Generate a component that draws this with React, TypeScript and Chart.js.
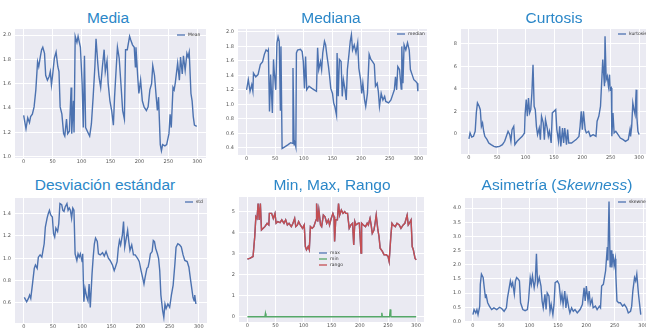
import React, { useEffect, useRef } from "react";
import { Chart, registerables } from "chart.js";
Chart.register(...registerables);

// ---------- data ----------
const xTicks = [0, 50, 100, 150, 200, 250, 300];

const mediaX = [
  0, 4, 7, 10, 12, 15, 18, 21, 24, 26,
  29, 31, 33, 36, 38, 41, 44, 46, 48, 50,
  53, 56, 59, 61, 63, 66, 69, 71, 74, 76,
  79, 82, 83, 86, 87, 89, 92, 94, 98, 101,
  103, 105, 107, 111, 114, 117, 120, 123, 125, 128,
  130, 133, 136, 139, 141, 144, 146, 149, 152, 155,
  157, 160, 162, 165, 168, 171, 174, 176, 179, 183,
  185, 188, 191, 193, 194, 197, 199, 202, 205, 208,
  212, 215, 218, 221, 223, 226, 229, 231, 233, 236,
  238, 240, 244, 247, 251, 253, 255, 258, 260, 262,
  266, 269, 271, 274, 276, 279, 282, 284, 286, 289,
  291, 293, 295, 299,
];
const mediaY = [
  1.34, 1.23, 1.32, 1.28, 1.33, 1.35, 1.41, 1.55, 1.78, 1.74,
  1.83, 1.88, 1.9, 1.85, 1.67, 1.63, 1.66, 1.7, 1.59, 1.67,
  1.81, 1.86, 1.74, 1.7, 1.41, 1.35, 1.19, 1.17, 1.31, 1.19,
  1.21, 1.57, 1.19, 1.46, 1.2, 1.99, 1.94, 1.99, 1.9, 1.6,
  1.24, 1.83, 1.24, 1.2, 1.17, 1.27, 1.49, 1.74, 1.97, 1.77,
  1.66, 1.57, 1.74, 1.88, 1.7, 1.79, 1.6, 1.46, 1.38, 1.26,
  1.49, 1.74, 1.9, 1.81, 1.6, 1.38, 1.31, 1.88, 1.88, 1.99,
  1.96, 1.92, 1.9, 1.74, 1.9, 1.66, 1.52, 1.63, 1.46, 1.41,
  1.38, 1.41, 1.55, 1.6, 1.75, 1.67, 1.49, 1.38, 1.49, 1.1,
  1.05, 1.1, 1.09, 1.1, 1.19, 1.35, 1.24, 1.57, 1.55, 1.61,
  1.77, 1.63, 1.82, 1.68, 1.83, 1.71, 1.85, 1.82, 1.86, 1.52,
  1.46, 1.33, 1.26, 1.25,
];

const medianaX = [
  0, 3, 6, 9, 11, 12, 16, 20, 24, 28,
  31, 34, 37, 38, 40, 42, 45, 47, 48, 51,
  53, 55, 57, 59, 60, 62, 66, 72, 77, 80,
  81, 83, 84, 86, 87, 89, 94, 97, 99, 101,
  103, 105, 109, 114, 118, 122, 124, 126, 129, 131,
  133, 136, 138, 140, 143, 145, 147, 150, 152, 154,
  157, 158, 160, 162, 165, 167, 169, 172, 174, 176,
  179, 181, 183, 185, 188, 191, 194, 196, 199, 201,
  203, 206, 208, 211, 214, 217, 220, 223, 225, 228,
  230, 232, 235, 238, 241, 243, 248, 252, 255, 258,
  260, 262, 264, 267, 270, 271, 273, 275, 278, 281,
  284, 286, 289, 292, 295, 298, 299,
];
const medianaY = [
  1.2, 1.34, 1.18, 1.27, 1.18, 1.43, 1.38, 1.41, 1.55, 1.59,
  1.69, 1.75, 1.73, 1.75, 0.9, 1.41, 0.88, 1.62, 1.48, 1.2,
  1.85, 1.93, 1.87, 0.92, 1.8, 0.39, 0.41, 0.44, 0.47, 0.46,
  1.5, 0.44, 0.48, 0.41, 1.71, 1.75, 1.76, 1.73, 1.59, 1.22,
  1.66, 1.2, 1.25, 1.22, 1.2, 1.18, 1.78, 1.48, 1.59, 1.48,
  1.71, 1.87, 1.82, 1.69, 1.52, 1.38, 1.22, 1.15, 1.02, 0.97,
  0.85, 1.71, 1.11, 1.62, 1.59, 1.11, 1.34, 1.2, 1.06, 1.48,
  1.71, 1.87, 1.96, 1.75, 1.82, 1.71, 1.85, 1.5, 1.34, 1.15,
  1.29, 1.06, 0.97, 1.15, 1.69, 1.62, 1.59, 1.55, 1.25, 1.29,
  1.18, 0.97, 1.15, 1.06, 1.11, 1.04, 1.02, 1.06, 1.13, 1.2,
  1.38, 1.2, 1.52, 1.48, 1.21, 1.8, 1.29, 1.82, 1.75, 1.85,
  1.75, 1.48, 1.41, 1.34, 1.32, 1.29, 1.18,
];

const curtosisX = [
  0, 2, 5, 8, 11, 13, 15, 18, 20, 22,
  24, 26, 28, 32, 35, 39, 44, 48, 54, 59,
  63, 66, 69, 72, 74, 76, 79, 81, 85, 89,
  94, 98, 99, 101, 103, 105, 107, 109, 111, 113,
  115, 117, 119, 121, 124, 126, 128, 131, 133, 135,
  138, 140, 142, 145, 147, 150, 153, 155, 158, 160,
  162, 165, 167, 169, 172, 174, 176, 181, 185, 189,
  194, 196, 198, 200, 202, 205, 207, 211, 214, 219,
  224, 226, 229, 232, 234, 236, 239, 240, 242, 244,
  246, 248, 249, 251, 252, 254, 256, 259, 263, 267,
  272, 276, 281, 284, 285, 287, 289, 291, 293, 295,
  296, 298, 300,
];
const curtosisY = [
  -0.44, 0.09, -0.27, -0.21, 0.24, 1.87, 2.76, 2.46, 2.16, 0.68,
  0.98, 0.24, -0.21, -0.5, -0.8, -0.95, -1.1, -1.16, -1.1, -0.95,
  -0.65, -0.21, 0.24, -0.06, -0.65, 0.39, 0.68, -0.95, -0.65, -0.44,
  -0.21, 0.09, 1.72, 3.05, 1.57, 3.2, 1.87, 2.16, 3.64, 6.16,
  2.46, 2.16, 0.68, -0.06, 0.53, -0.5, 1.57, 0.98, -0.5, 1.27,
  0.53, -0.21, 0.24, -0.8, 1.87, 2.01, 2.16, 0.39, -0.65, 0.68,
  -1.1, 0.53, -0.8, 0.53, -0.95, 0.39, -0.8, -0.8, -0.65, -0.5,
  -0.21, 0.68, 2.01, 0.39, 2.01, 0.39, 0.09, 0.24, -0.21, -0.06,
  -0.21, 1.13, 1.57, 2.46, 4.53, 6.61, 4.24, 8.68, 4.83, 5.13,
  4.24, 5.27, 3.94, 4.09, -0.21, 1.87, 0.09, 0.24, -0.06, -0.36,
  -0.5, -0.65, -0.5, 0.39, -0.21, 0.68, 2.76, 2.16, 1.72, 3.94,
  1.57, 0.24, -0.06,
];

const stdX = [
  1, 5, 8, 10, 12, 15, 18, 20, 23, 25,
  28, 31, 33, 35, 37, 40, 42, 44, 46, 49,
  51, 53, 55, 58, 60, 62, 65, 67, 69, 71,
  74, 76, 78, 80, 82, 84, 86, 88, 91, 93,
  95, 97, 100, 101, 103, 105, 108, 110, 112, 114,
  117, 119, 121, 123, 126, 128, 131, 135, 138, 141,
  145, 148, 152, 155, 157, 160, 162, 164, 166, 169,
  171, 173, 175, 178, 180, 182, 185, 188, 191, 195,
  198, 201, 204, 206, 208, 211, 213, 215, 217, 220,
  222, 224, 226, 229, 231, 233, 235, 238, 240, 242,
  244, 247, 250, 253, 256, 259, 261, 264, 267, 270,
  273, 276, 280, 283, 286, 290, 292, 293, 295,
];
const stdY = [
  0.65, 0.61, 0.64, 0.67, 0.64, 0.77, 0.91, 0.94, 0.91, 1.01,
  1.03, 1.01, 1.07, 1.13, 1.28, 1.36, 1.4, 1.43, 1.39, 1.37,
  1.22, 1.19, 1.27, 1.24, 1.31, 1.49, 1.48, 1.43, 1.42, 1.46,
  1.49, 1.43, 1.45, 1.43, 1.36, 1.45, 1.43, 1.04, 0.98, 1.04,
  1.01, 1.04, 0.97, 1.04, 0.61, 0.73, 0.65, 0.62, 0.77, 0.56,
  0.86, 1.01, 1.13, 1.18, 1.15, 1.04, 1.03, 1.05, 1.02, 1.06,
  1.0, 0.98, 0.94, 0.89, 0.92, 0.97, 1.09, 1.16, 1.12, 1.21,
  1.33, 1.1, 1.16, 1.25, 1.15, 1.07, 1.12, 1.03, 1.03, 1.0,
  0.97, 0.89, 0.82, 0.77, 0.83, 0.91, 0.92, 0.97, 1.04, 1.06,
  1.16, 1.15, 1.09, 1.04, 1.0, 0.89, 0.67, 0.53, 0.47, 0.59,
  0.55, 0.59, 0.56, 0.67, 0.76, 0.95, 1.1, 1.13, 1.12, 1.1,
  1.03, 0.98, 0.97, 0.92, 0.8, 0.65, 0.62, 0.67, 0.59,
];

const rangoX = [
  0, 5, 8, 10, 13, 15, 17, 19, 21, 23,
  25, 28, 31, 35, 38, 39, 43, 46, 49, 51,
  54, 58, 61, 65, 68, 71, 74, 78, 81, 84,
  86, 89, 91, 94, 96, 98, 101, 103, 105, 108,
  110, 112, 115, 118, 122, 123, 125, 127, 130, 132,
  135, 138, 141, 144, 146, 149, 152, 154, 155, 157,
  160, 162, 164, 167, 170, 173, 175, 178, 181, 184,
  187, 189, 191, 193, 197, 199, 202, 203, 206, 210,
  213, 215, 218, 220, 222, 225, 227, 229, 232, 234,
  236, 240, 243, 247, 250, 252, 255, 257, 259, 263,
  266, 270, 273, 277, 280, 284, 286, 288, 291, 293,
  295, 298, 300,
];
const rangoY = [
  2.74, 2.79, 2.84, 2.87, 3.82, 4.76, 4.68, 5.39, 4.61, 5.39,
  4.13, 4.21, 4.29, 4.45, 4.37, 4.92, 4.92, 4.68, 4.92, 4.45,
  4.53, 4.48, 4.61, 4.45, 4.61, 4.37, 4.45, 4.29, 4.45, 4.68,
  4.29, 4.37, 4.53, 4.37, 4.29, 4.21, 4.37, 3.34, 3.19, 3.34,
  3.19, 4.29, 4.21, 4.29, 4.61, 5.39, 4.53, 5.08, 4.37, 4.29,
  4.84, 4.76, 4.45, 4.61, 4.37, 4.68, 4.92, 4.76, 3.58, 4.61,
  4.61, 5.39, 4.84, 5.08, 4.92, 5.0, 4.92, 4.92, 4.21, 4.37,
  4.45, 3.42, 4.53, 4.37, 4.45, 4.45, 3.03, 4.45, 4.37, 4.29,
  4.45, 4.37, 4.68, 4.37, 3.97, 4.13, 4.45, 4.84, 4.13, 3.82,
  3.26, 3.11, 2.95, 2.95, 2.87, 2.63, 3.82, 4.45, 4.37, 4.29,
  4.45, 4.37, 4.21, 4.37, 4.45, 4.84, 4.37, 4.45, 4.61, 3.34,
  3.19, 2.79, 2.71,
];
// max is hidden under rango in the reference (min is ~0 almost everywhere)
const maxX = rangoX;
const maxY = rangoY;
const minX = [0, 31, 32, 33, 238, 239, 240, 252, 253, 254, 255, 256, 300];
const minY = [0, 0, 0.16, 0, 0, 0.19, 0, 0, 0.08, 0.35, 0.04, 0, 0];

const skewX = [
  0, 2, 5, 7, 9, 12, 13, 15, 18, 20,
  22, 23, 26, 29, 33, 37, 42, 47, 51, 55,
  59, 61, 63, 66, 68, 70, 73, 75, 77, 80,
  82, 84, 88, 92, 96, 98, 101, 103, 105, 108,
  110, 112, 114, 117, 120, 122, 124, 127, 129, 131,
  134, 136, 138, 141, 143, 145, 149, 152, 155, 157,
  159, 162, 164, 166, 169, 171, 174, 177, 180, 184,
  189, 193, 196, 198, 200, 203, 205, 207, 210, 212,
  216, 219, 223, 225, 227, 230, 232, 234, 237, 238,
  240, 242, 244, 245, 247, 249, 251, 252, 254, 257,
  260, 264, 267, 271, 274, 278, 280, 282, 285, 287,
  289, 292, 294, 296,
];
const skewY = [
  0.24, 0.42, 0.3, 0.42, 0.24, 0.54, 1.31, 1.67, 1.55, 1.19,
  0.84, 0.96, 0.66, 0.54, 0.42, 0.48, 0.42, 0.5, 0.45, 0.36,
  0.48, 0.84, 1.07, 1.43, 1.25, 1.37, 0.96, 1.43, 1.55, 1.49,
  1.43, 0.66, 0.42, 0.38, 0.42, 0.72, 1.55, 1.31, 1.61, 1.19,
  1.43, 2.39, 1.31, 1.55, 1.25, 0.72, 0.48, 0.96, 0.42, 1.01,
  0.9, 0.36, 0.6, 0.24, 0.6, 1.37, 1.43, 1.31, 0.72, 0.96,
  0.6, 1.07, 0.48, 0.84, 0.48, 0.3, 0.48, 0.36, 0.42, 0.3,
  0.42, 0.6, 1.19, 0.72, 1.25, 0.72, 1.07, 0.6, 0.78, 0.48,
  0.54, 0.42, 0.54, 0.48, 1.25, 1.31, 1.55, 1.79, 2.63, 2.15,
  4.24, 1.91, 2.51, 1.91, 2.39, 1.97, 2.21, 1.67, 0.72, 0.66,
  0.66, 0.54, 0.6, 0.48, 0.3, 0.36, 0.54, 1.07, 1.55, 1.43,
  1.67, 0.96, 0.6, 0.24,
];

const mediaTicks = [1.0, 1.2, 1.4, 1.6, 1.8, 2.0];
const medianaTicks = [0.4, 0.6, 0.8, 1.0, 1.2, 1.4, 1.6, 1.8, 2.0];
const curtosisTicks = [0, 2, 4, 6, 8];
const stdTicks = [0.6, 0.8, 1.0, 1.2, 1.4];
const rangoTicks = [0, 1, 2, 3, 4, 5];
const skewTicks = [0.0, 0.5, 1.0, 1.5, 2.0, 2.5, 3.0, 3.5, 4.0];

// ---------- styling ----------
const BLUE = "#4C72B0";
const GREEN = "#55A868";
const RED = "#C44E52";
const TITLE_COLOR = "#2b87c8";
const YW = 16;
const XH = 10;
const PAD_T = 6;
const PAD_R = 8;

type Series = { label: string; xs: number[]; ys: number[]; color: string; order: number };
type PanelCfg = {
  title: React.ReactNode;
  cx: number;
  titleTop: number;
  plot: { l: number; t: number; r: number; b: number };
  xMin: number;
  xMax: number;
  yMin: number;
  yMax: number;
  yTicks: number[];
  dec: number;
  series: Series[];
  legend: { x: number; y: number };
};

const panels: PanelCfg[] = [
  {
    title: "Media", cx: 108, titleTop: 10,
    plot: { l: 15, t: 29, r: 206, b: 158 },
    xMin: -15, xMax: 315, yMin: 0.99, yMax: 2.05, yTicks: mediaTicks, dec: 1,
    series: [{ label: "Mean", xs: mediaX, ys: mediaY, color: BLUE, order: 0 }],
    legend: { x: 177, y: 35 },
  },
  {
    title: "Mediana", cx: 331, titleTop: 10,
    plot: { l: 238, t: 29, r: 427, b: 155 },
    xMin: -15, xMax: 315, yMin: 0.3, yMax: 2.04, yTicks: medianaTicks, dec: 1,
    series: [{ label: "median", xs: medianaX, ys: medianaY, color: BLUE, order: 0 }],
    legend: { x: 397, y: 34 },
  },
  {
    title: "Curtosis", cx: 554, titleTop: 10,
    plot: { l: 461, t: 29, r: 647, b: 154 },
    xMin: -14, xMax: 314, yMin: -1.78, yMax: 9.33, yTicks: curtosisTicks, dec: 0,
    series: [{ label: "kurtosis", xs: curtosisX, ys: curtosisY, color: BLUE, order: 0 }],
    legend: { x: 618, y: 34 },
  },
  {
    title: "Desviación estándar", cx: 105, titleTop: 177,
    plot: { l: 15, t: 198, r: 207, b: 323 },
    xMin: -15, xMax: 314, yMin: 0.42, yMax: 1.54, yTicks: stdTicks, dec: 1,
    series: [{ label: "std", xs: stdX, ys: stdY, color: BLUE, order: 0 }],
    legend: { x: 185, y: 202 },
  },
  {
    title: "Min, Max, Rango", cx: 332, titleTop: 177,
    plot: { l: 239, t: 197, r: 424, b: 322 },
    xMin: -15, xMax: 314, yMin: -0.25, yMax: 5.7, yTicks: rangoTicks, dec: 0,
    series: [
      { label: "max", xs: maxX, ys: maxY, color: BLUE, order: 1 },
      { label: "min", xs: minX, ys: minY, color: GREEN, order: 2 },
      { label: "rango", xs: rangoX, ys: rangoY, color: RED, order: 0 },
    ],
    legend: { x: 319, y: 253 },
  },
  {
    title: (
      <>
        Asimetría (<i>Skewness</i>)
      </>
    ),
    cx: 557, titleTop: 177,
    plot: { l: 465, t: 198, r: 647, b: 322 },
    xMin: -14, xMax: 307, yMin: -0.02, yMax: 4.36, yTicks: skewTicks, dec: 1,
    series: [{ label: "skewness", xs: skewX, ys: skewY, color: BLUE, order: 0 }],
    legend: { x: 618, y: 202 },
  },
];

function Panel({ cfg }: { cfg: PanelCfg }) {
  const ref = useRef<HTMLCanvasElement | null>(null);
  const { l, t, r, b } = cfg.plot;
  const cw = r - l + YW + PAD_R;
  const ch = b - t + PAD_T + XH;

  useEffect(() => {
    const canvas = ref.current;
    if (!canvas) return;
    const bgPlugin = {
      id: "bg",
      beforeDraw(chart: any) {
        const { ctx, chartArea: ca } = chart;
        ctx.save();
        ctx.fillStyle = "#EAEAF2";
        ctx.fillRect(ca.left, ca.top, ca.right - ca.left, ca.bottom - ca.top);
        ctx.restore();
      },
    };
    const legendPlugin = {
      id: "panelLegend",
      afterDatasetsDraw(chart: any) {
        const { ctx, chartArea: ca } = chart;
        const dx = cfg.legend.x - l;
        const dy = cfg.legend.y - t;
        ctx.save();
        ctx.font = "4.5px 'DejaVu Sans', sans-serif";
        ctx.textBaseline = "middle";
        ctx.textAlign = "left";
        cfg.series.forEach((s, i) => {
          const y = ca.top + dy + i * 6;
          const x0 = ca.left + dx;
          ctx.strokeStyle = s.color;
          ctx.lineWidth = 1.3;
          ctx.beginPath();
          ctx.moveTo(x0, y);
          ctx.lineTo(x0 + 8, y);
          ctx.stroke();
          ctx.fillStyle = "#333";
          ctx.fillText(s.label, x0 + 11, y);
        });
        ctx.restore();
      },
    };
    const chart = new Chart(canvas, {
      type: "line",
      data: {
        datasets: cfg.series.map((s) => ({
          label: s.label,
          data: s.xs.map((x, i) => ({ x, y: s.ys[i] })),
          borderColor: s.color,
          backgroundColor: s.color,
          borderWidth: 1.4,
          pointRadius: 0,
          tension: 0,
          fill: false,
          order: s.order,
        })),
      },
      options: {
        responsive: false,
        animation: false,
        devicePixelRatio: 1,
        layout: { padding: { top: PAD_T, right: PAD_R, left: 0, bottom: 0 } },
        plugins: { legend: { display: false }, title: { display: false }, tooltip: { enabled: false } },
        events: [],
        scales: {
          x: {
            type: "linear",
            min: cfg.xMin,
            max: cfg.xMax,
            afterBuildTicks: (s: any) => {
              s.ticks = xTicks.map((v) => ({ value: v }));
            },
            afterFit: (s: any) => {
              s.height = XH;
              s.paddingLeft = 0;
              s.paddingRight = 0;
            },
            grid: { color: "#ffffff", lineWidth: 1, drawTicks: false },
            border: { display: false },
            ticks: {
              autoSkip: false,
              maxRotation: 0,
              minRotation: 0,
              padding: 1,
              color: "#555",
              font: { size: 5, family: "'DejaVu Sans', sans-serif" },
              callback: (v: any) => String(v),
            },
          },
          y: {
            type: "linear",
            min: cfg.yMin,
            max: cfg.yMax,
            afterBuildTicks: (s: any) => {
              s.ticks = cfg.yTicks.map((v) => ({ value: v }));
            },
            afterFit: (s: any) => {
              s.width = YW;
              s.paddingTop = 0;
              s.paddingBottom = 0;
            },
            grid: { color: "#ffffff", lineWidth: 1, drawTicks: false },
            border: { display: false },
            ticks: {
              autoSkip: false,
              padding: 4,
              color: "#555",
              font: { size: 5, family: "'DejaVu Sans', sans-serif" },
              callback: (v: any) => Number(v).toFixed(cfg.dec),
            },
          },
        },
      } as any,
      plugins: [bgPlugin, legendPlugin],
    });
    return () => chart.destroy();
  }, []);

  return (
    <>
      <div
        style={{
          position: "absolute",
          left: cfg.cx - 150,
          top: cfg.titleTop,
          width: 300,
          textAlign: "center",
          fontFamily: "'Liberation Sans', Arial, sans-serif",
          fontSize: 15.5,
          lineHeight: "15.5px",
          color: TITLE_COLOR,
          whiteSpace: "nowrap",
        }}
      >
        {cfg.title}
      </div>
      <canvas
        ref={ref}
        width={cw}
        height={ch}
        style={{ position: "absolute", left: l - YW, top: t - PAD_T, width: cw, height: ch }}
      />
    </>
  );
}

export default function App() {
  return (
    <div
      style={{
        position: "fixed",
        left: 0,
        top: 0,
        width: 646,
        height: 329,
        overflow: "hidden",
        background: "#ffffff",
      }}
    >
      {panels.map((p, i) => (
        <Panel key={i} cfg={p} />
      ))}
    </div>
  );
}
